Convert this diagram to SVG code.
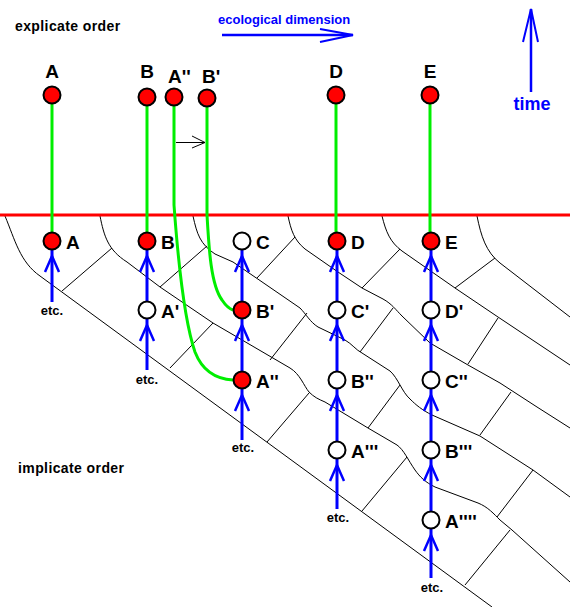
<svg xmlns="http://www.w3.org/2000/svg" xmlns:xlink="http://www.w3.org/1999/xlink" width="570" height="607" viewBox="0 0 570 607">
<style>
.grid{fill:none;stroke:#000;stroke-width:1}
.green{fill:none;stroke:#00EE00;stroke-width:3}
.blue{fill:none;stroke:#0000FF;stroke-width:3}
.ah{fill:none;stroke:#0000FF;stroke-width:2.5}
.red{fill:#FF0000;stroke:#000;stroke-width:2}
.white{fill:#FFFFFF;stroke:#000;stroke-width:2}
.lbl{font-family:"Liberation Sans",Arial,sans-serif;font-weight:bold;font-size:19px;fill:#000}
.etc{font-family:"Liberation Sans",Arial,sans-serif;font-weight:bold;font-size:13px;fill:#000;text-anchor:middle}
.title{font-family:"Liberation Sans",Arial,sans-serif;font-weight:bold;font-size:14px;fill:#000}
</style>
<defs>
<path id="ah" d="M-7,16 L0,0 L7,16"/>
</defs>
<rect width="570" height="607" fill="#FFFFFF"/>

<g id="grid">
<path class="grid" d="M5,216 C15,240 20,262 40,276 L492,607"/>
<path class="grid" d="M100,216 C104,236 108,250 127,262 L160,287 L213,323 L290,368 C300,374 304,386 309,392 C314,397 318,399 325,402 L368,428 L397,445 C404,450 408,460 415,470 C420,477 425,482 435,487 L478,503 C488,507 494,514 500,520 L512,530 L570,582"/>
<path class="grid" d="M193,216 C197,234 200,244 215,254 L233,262 L300,308 C306,314 310,322 318,327 L345,340 C352,344 356,350 362,353 L390,371 C398,378 402,392 410,399 C416,405 422,410 432,415 L480,436 L533,470 L570,497"/>
<path class="grid" d="M288,216 C291,230 294,240 305,249 L338,272 L362,288 L383,299 C392,304 396,310 402,316 L430,343 L468,365 L500,383 L537,407 L570,428"/>
<path class="grid" d="M382,216 C386,232 390,242 402,251 L455,288 L498,317 L570,365"/>
<path class="grid" d="M477,216 C481,236 486,252 500,263 L570,317"/>
<path class="grid" d="M62,291 L112,248 M170,368 L213,323 M267,442 L309,393 M362,511 L407,457 M465,585 L510,530"/>
<path class="grid" d="M160,287 L207,246 M270,360 L307,313 M368,428 L400,385 M497,517 L533,470"/>
<path class="grid" d="M257,278 L295,237 M360,352 L393,308 M480,435 L511,392"/>
<path class="grid" d="M362,288 L400,249 M468,364 L498,318"/>
<path class="grid" d="M455,288 L495,258"/>
</g>

<g id="now-line">
<line x1="0" y1="215" x2="570" y2="215" stroke="#FF0000" stroke-width="3"/>
</g>

<g id="connectors">
<path class="green" d="M52,104 L52,232"/>
<path class="green" d="M147,106 L147,232"/>
<path class="green" d="M336,104 L336,232"/>
<path class="green" d="M430,104 L430,232"/>
<path class="green" d="M174,106 L174,205 C178,260 184,320 195,352 C202,370 215,379 233,380"/>
<path class="green" d="M207,107 L207,215 C209,250 211,285 222,300 C226,306 230,309 233,310"/>
<path d="M176,142.5 L205,142.5 M192,136 L205,142.5 L192,148" fill="none" stroke="#000" stroke-width="1"/>

<path class="blue" d="M52,302 L52,250"/>
<use href="#ah" xlink:href="#ah" class="ah" x="52" y="256"/>

<path class="blue" d="M147,301 L147,250"/>
<use href="#ah" xlink:href="#ah" class="ah" x="147" y="256"/>
<path class="blue" d="M147,370 L147,319"/>
<use href="#ah" xlink:href="#ah" class="ah" x="147" y="325"/>

<path class="blue" d="M242,301 L242,250"/>
<use href="#ah" xlink:href="#ah" class="ah" x="242" y="256"/>
<path class="blue" d="M242,371 L242,319"/>
<use href="#ah" xlink:href="#ah" class="ah" x="242" y="325"/>
<path class="blue" d="M242,440 L242,389"/>
<use href="#ah" xlink:href="#ah" class="ah" x="242" y="395"/>

<path class="blue" d="M337,301 L337,250"/>
<use href="#ah" xlink:href="#ah" class="ah" x="337" y="256"/>
<path class="blue" d="M337,371 L337,319"/>
<use href="#ah" xlink:href="#ah" class="ah" x="337" y="325"/>
<path class="blue" d="M337,441 L337,389"/>
<use href="#ah" xlink:href="#ah" class="ah" x="337" y="395"/>
<path class="blue" d="M337,509 L337,459"/>
<use href="#ah" xlink:href="#ah" class="ah" x="337" y="465"/>

<path class="blue" d="M431,301 L431,250"/>
<use href="#ah" xlink:href="#ah" class="ah" x="431" y="256"/>
<path class="blue" d="M431,371 L431,319"/>
<use href="#ah" xlink:href="#ah" class="ah" x="431" y="325"/>
<path class="blue" d="M431,441 L431,389"/>
<use href="#ah" xlink:href="#ah" class="ah" x="431" y="395"/>
<path class="blue" d="M431,511 L431,459"/>
<use href="#ah" xlink:href="#ah" class="ah" x="431" y="465"/>
<path class="blue" d="M431,578 L431,529"/>
<use href="#ah" xlink:href="#ah" class="ah" x="431" y="535"/>
</g>

<g id="top-A"><circle class="red" cx="52" cy="95" r="8.5"/><text class="lbl" x="52" y="78" text-anchor="middle">A</text></g>
<g id="top-B"><circle class="red" cx="147" cy="97" r="8.5"/><text class="lbl" x="147" y="78" text-anchor="middle">B</text></g>
<g id="top-A2"><circle class="red" cx="174" cy="97" r="8.5"/><text class="lbl" x="168" y="83">A''</text></g>
<g id="top-B1"><circle class="red" cx="207" cy="98" r="8.5"/><text class="lbl" x="202" y="83">B'</text></g>
<g id="top-D"><circle class="red" cx="336" cy="95" r="8.5"/><text class="lbl" x="336" y="78" text-anchor="middle">D</text></g>
<g id="top-E"><circle class="red" cx="430" cy="95" r="8.5"/><text class="lbl" x="430" y="78" text-anchor="middle">E</text></g>

<g id="n-A"><circle class="red" cx="52" cy="241" r="8.5"/><text class="lbl" x="66" y="249">A</text></g>
<g id="n-B"><circle class="red" cx="147" cy="241" r="8.5"/><text class="lbl" x="161" y="249">B</text></g>
<g id="n-A1"><circle class="white" cx="147" cy="310" r="8.5"/><text class="lbl" x="161" y="318">A'</text></g>
<g id="n-C"><circle class="white" cx="242" cy="241" r="8.5"/><text class="lbl" x="256" y="249">C</text></g>
<g id="n-B1"><circle class="red" cx="242" cy="310" r="8.5"/><text class="lbl" x="256" y="318">B'</text></g>
<g id="n-A2"><circle class="red" cx="242" cy="380" r="8.5"/><text class="lbl" x="256" y="388">A''</text></g>
<g id="n-D"><circle class="red" cx="337" cy="241" r="8.5"/><text class="lbl" x="351" y="249">D</text></g>
<g id="n-C1"><circle class="white" cx="337" cy="310" r="8.5"/><text class="lbl" x="351" y="318">C'</text></g>
<g id="n-B2"><circle class="white" cx="337" cy="380" r="8.5"/><text class="lbl" x="351" y="388">B''</text></g>
<g id="n-A3"><circle class="white" cx="337" cy="450" r="8.5"/><text class="lbl" x="351" y="458">A'''</text></g>
<g id="n-E"><circle class="red" cx="431" cy="241" r="8.5"/><text class="lbl" x="445" y="249">E</text></g>
<g id="n-D1"><circle class="white" cx="431" cy="310" r="8.5"/><text class="lbl" x="445" y="318">D'</text></g>
<g id="n-C2"><circle class="white" cx="431" cy="380" r="8.5"/><text class="lbl" x="445" y="388">C''</text></g>
<g id="n-B3"><circle class="white" cx="431" cy="450" r="8.5"/><text class="lbl" x="445" y="458">B'''</text></g>
<g id="n-A4"><circle class="white" cx="431" cy="520" r="8.5"/><text class="lbl" x="445" y="528">A''''</text></g>

<g id="etc-labels">
<text class="etc" x="52" y="315">etc.</text>
<text class="etc" x="147" y="384">etc.</text>
<text class="etc" x="243" y="452">etc.</text>
<text class="etc" x="338" y="522">etc.</text>
<text class="etc" x="432" y="592">etc.</text>
</g>

<g id="titles">
<text class="title" x="15" y="31" letter-spacing="0.4">explicate order</text>
<text class="title" x="18" y="473" letter-spacing="0.4">implicate order</text>
</g>

<g id="ecological">
<text x="218" y="24" font-family="Liberation Sans, Arial, sans-serif" font-weight="bold" font-size="13" fill="#0000FF">ecological dimension</text>
<path d="M222,35 L353,35" stroke="#0000FF" stroke-width="2.5" fill="none"/>
<path d="M320,29 L353,35 L320,42" stroke="#0000FF" stroke-width="2" fill="none"/>
</g>

<g id="time">
<path d="M531,92 L531,9" stroke="#0000FF" stroke-width="2.5" fill="none"/>
<path d="M523,42 L531,9 L538,42" stroke="#0000FF" stroke-width="2" fill="none"/>
<text x="532" y="110" text-anchor="middle" font-family="Liberation Sans, Arial, sans-serif" font-weight="bold" font-size="18" fill="#0000FF">time</text>
</g>
</svg>
